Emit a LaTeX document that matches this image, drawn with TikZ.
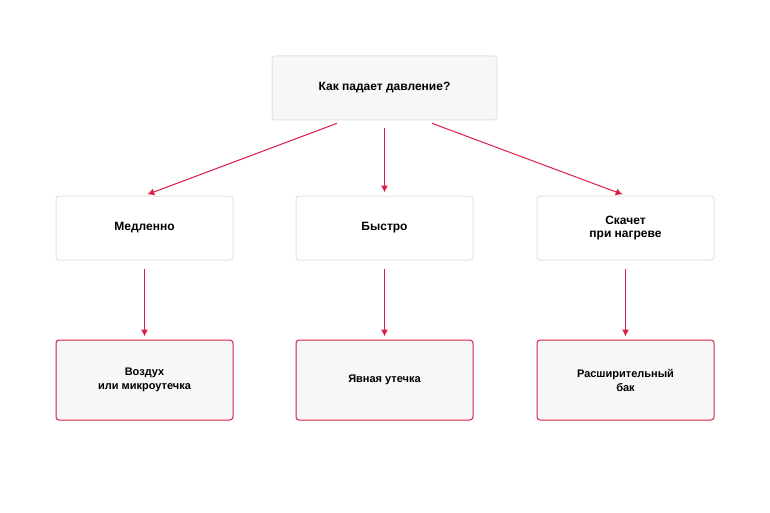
\documentclass[tikz,border=0pt]{standalone}
\usepackage{fontspec}
\setmainfont{Liberation Sans}
\usetikzlibrary{arrows.meta,positioning}
\definecolor{boxfill}{RGB}{247,247,247}
\definecolor{boxline}{RGB}{226,226,226}
\definecolor{crimson}{RGB}{220,30,70}
\tikzset{>={Latex[length=7pt,width=7pt]}}
\tikzset{
  question/.style={draw=boxline,fill=boxfill,rounded corners=3pt,line width=1pt,
    minimum width=225pt,minimum height=64pt,font=\bfseries\fontsize{12}{13}\selectfont,align=center},
  speed/.style={draw=boxline,fill=white,rounded corners=3pt,line width=1pt,
    minimum width=177pt,minimum height=64pt,font=\bfseries\fontsize{12}{13}\selectfont,align=center},
  cause/.style={draw=crimson,fill=boxfill,rounded corners=3pt,line width=1pt,
    minimum width=177pt,minimum height=80pt,font=\bfseries\fontsize{11}{14}\selectfont,align=center},
  link/.style={->,crimson,line width=1pt,shorten <=8pt,shorten >=3pt}
}
\begin{document}
\begin{tikzpicture}[x=1pt,y=-1pt]
    \useasboundingbox (0,0) rectangle (770,513);
    % question
    \node[question] (top) at (384.5,88) {Как падает давление?};
    % speed of the drop
    \node[speed] (slow) at (144.5,228) {Медленно};
    \node[speed] (fast) at (384.5,228) {Быстро};
    \node[speed] (jump) at (625.5,228) {Скачет\\при нагреве};
    % causes
    \node[cause] (air) at (144.5,380) {Воздух\\или микроутечка};
    \node[cause] (leak) at (384.5,380) {Явная утечка};
    \node[cause] (tank) at (625.5,380) {Расширительный\\бак};
    \draw[link] ([xshift=-40pt]top.south) -- (slow.north);
    \draw[link] (top.south) -- (fast.north);
    \draw[link] ([xshift=40pt]top.south) -- (jump.north);
    \draw[link] (slow.south) -- (air.north);
    \draw[link] (fast.south) -- (leak.north);
    \draw[link] (jump.south) -- (tank.north);
\end{tikzpicture}
\end{document}
